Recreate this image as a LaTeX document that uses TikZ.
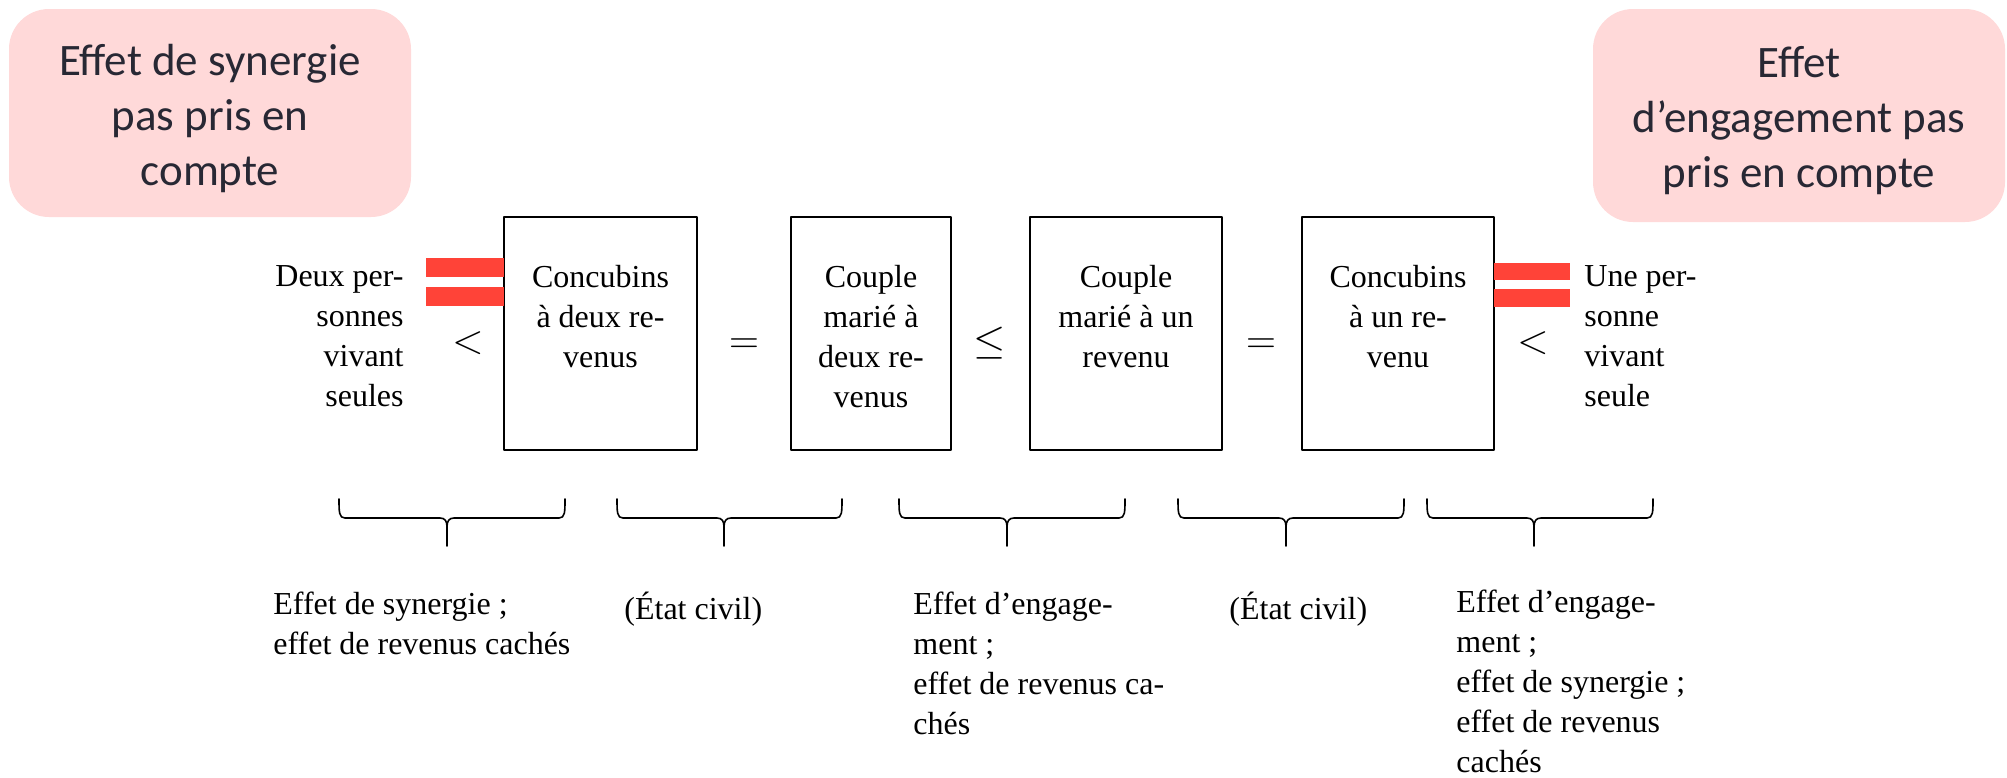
\documentclass[tikz,border=0pt]{standalone}
\usepackage[no-math]{fontspec}
\setmainfont{LiberationSerif-Regular.ttf}[BoldFont=LiberationSerif-Bold.ttf]
\newfontfamily\carlito{Carlito}
\usetikzlibrary{positioning}
\definecolor{rosefond}{RGB}{255,217,217}
\definecolor{rougebarre}{RGB}{255,67,56}
\definecolor{grisfonce}{RGB}{40,40,52}
\begin{document}
\begin{tikzpicture}[x=0.5pt, y=-0.5pt, line join=round, line cap=round,
	effet/.style={fill=rosefond, rounded corners=20pt},
	effettxt/.style={text=grisfonce, align=center, inner sep=0pt,
		font=\carlito\fontsize{22.5}{27.5}\selectfont},
	cadre/.style={draw, line width=1pt, minimum height=116.5pt, inner sep=0pt},
	txt/.style={font=\rmfamily\fontsize{16}{20}\selectfont, inner sep=0pt},
	signe/.style={font=\fontsize{22}{26}\selectfont, inner sep=0pt, anchor=base},
	barre/.style={fill=rougebarre},
	accolade/.style={line width=0.8pt}]
	\useasboundingbox (0,0) rectangle (2007,777);
	% encadres roses
	\node[effet, minimum width=201pt, minimum height=104pt] (synergie) at (210,113) {};
	\node[effet, minimum width=206pt, minimum height=106.5pt] (engagement) at (1799,115.5) {};
	\node[effettxt] (tsyn) at ([yshift=-2.5pt]synergie.center) {Effet de synergie\\pas pris en\\compte};
	\node[effettxt] (teng) at ([yshift=-2.5pt]engagement.center) {Effet\\d’engagement pas\\pris en compte};
	% cases
	\node[cadre, minimum width=96.5pt] (b1) at (600.5,333.5) {};
	\node[cadre, minimum width=80pt] (b2) at (871,333.5) {};
	\node[cadre, minimum width=96pt] (b3) at (1126,333.5) {};
	\node[cadre, minimum width=96pt] (b4) at (1398,333.5) {};
	\node[txt, align=center, anchor=north] (t1) at (600.5,265) {Concubins\\à deux re-\\venus};
	\node[txt, align=center, anchor=north] (t2) at (871,265) {Couple\\marié à\\deux re-\\venus};
	\node[txt, align=center, anchor=north] (t3) at (1126,265) {Couple\\marié à un\\revenu};
	\node[txt, align=center, anchor=north] (t4) at (1398,265) {Concubins\\à un re-\\venu};
	\node[txt, align=right, anchor=north east] (deux) at (404,265) {Deux per-\\sonnes\\vivant\\seules};
	\node[txt, align=left, anchor=north west] (une) at (1584,265) {Une per-\\sonne\\vivant\\seule};
	% signes
	\node[signe] (s1) at (468,353) {$<$};
	\node[signe] (s2) at (744,353) {$=$};
	\node[signe] (s3) at (990,353) {$\leq$};
	\node[signe] (s4) at (1261,353) {$=$};
	\node[signe] (s5) at (1533,353) {$<$};
	% barres rouges
	\fill[barre] (426,258) rectangle (504,277);
	\fill[barre] (426,287) rectangle (504,306);
	\fill[barre] (1494,263) rectangle (1570,280);
	\fill[barre] (1494,289) rectangle (1570,307);
	% accolades
	\foreach \g/\p/\d in {339/447/565, 617/724/842, 899/1007/1125, 1178/1286/1404, 1427/1534/1653}
	\draw[accolade] (\g,499) .. controls (\g,512) and (\g,518) .. (\g+6,518) -- (\p-7,518)
		.. controls (\p-2,518) and (\p,521) .. (\p,527) -- (\p,546)
		(\p,527) .. controls (\p,521) and (\p+2,518) .. (\p+7,518) -- (\d-6,518)
		.. controls (\d,518) and (\d,512) .. (\d,499);
	% textes du bas
	\node[txt, align=left, anchor=north west] (e1) at (273,592) {Effet de synergie ;\\effet de revenus cachés};
	\node[txt, align=left, anchor=north west] (e2) at (624,592) {(État civil)};
	\node[txt, align=left, anchor=north west] (e3) at (913,592) {Effet d’engage-\\ment ;\\effet de revenus ca-\\chés};
	\node[txt, align=left, anchor=north west] (e4) at (1229,592) {(État civil)};
	\node[txt, align=left, anchor=north west] (e5) at (1456,590) {Effet d’engage-\\ment ;\\effet de synergie ;\\effet de revenus\\cachés};
\end{tikzpicture}
\end{document}
